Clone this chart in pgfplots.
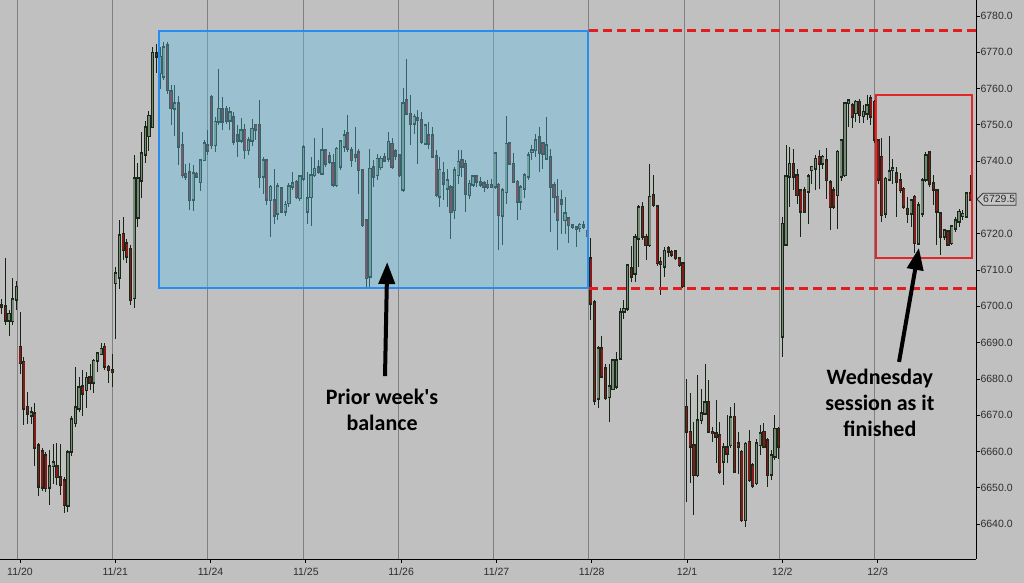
\documentclass[border=0pt]{standalone}
\usepackage{fontspec}
\setmainfont{Liberation Sans}
\newfontfamily\annfont{Carlito}
\usepackage{pgfplots}
\pgfplotsset{compat=1.18}
\usepackage{pgfplotstable}
\usetikzlibrary{arrows.meta}
\definecolor{bgcol}{RGB}{192,192,192}
\definecolor{gridcol}{RGB}{128,128,128}
\definecolor{wickcol}{RGB}{20,35,20}
\definecolor{outcol}{RGB}{25,40,25}
\definecolor{upcol}{RGB}{120,138,120}
\definecolor{dncol}{RGB}{135,25,25}
\definecolor{boxfill}{RGB}{100,192,230}
\definecolor{boxline}{RGB}{40,140,240}
\definecolor{dashcol}{RGB}{225,30,30}
\definecolor{boxred}{RGB}{225,40,40}
\definecolor{labcol}{RGB}{45,45,45}

\pgfplotstableread{
i o h l c
0 6700.5 6702 6698 6700
1 6700 6713.5 6695 6696
2 6696 6699 6692 6698
3 6696 6708 6695 6702
4 6702 6707 6699 6705.5
5 6689 6698.5 6681.6 6684.4
6 6684.8 6686 6667.3 6671.9
7 6672.4 6676.5 6667.8 6670.5
8 6670 6672.4 6667.8 6671
9 6670.6 6673.4 6656.3 6661
10 6661.8 6662.5 6648 6650.3
11 6660 6661 6649 6650
12 6659 6660 6649 6650
13 6650 6660.4 6645.3 6656
14 6656 6662 6651 6657
15 6656 6662.5 6651 6653
16 6653 6662 6648 6651
17 6652.2 6653 6643 6645.3
18 6645.3 6660.5 6643.5 6660
19 6660 6670 6659 6669
20 6668 6683.4 6667 6672.4
21 6672 6680.6 6671 6677.9
22 6678 6682.6 6670 6676
23 6677 6682 6672 6680.5
24 6680.5 6684 6677 6679
25 6679 6685.6 6676 6685
26 6685 6687.5 6682 6687
27 6687 6690 6687 6688.5
28 6689 6690 6682.7 6683.4
29 6683.4 6684 6679 6682.5
30 6682.5 6687 6678 6682
31 6706.4 6711 6691 6709.2
32 6708 6723.8 6705 6719.7
33 6720 6724.7 6712.8 6715.5
34 6717.5 6718.6 6712 6713.7
35 6716 6717 6700.4 6701.8
36 6702.3 6741.7 6699.5 6735.4
37 6724.6 6739.5 6722 6735.4
38 6734.8 6748 6730 6742.3
39 6742 6751 6739.6 6749.5
40 6747 6754 6743 6752.7
41 6749.5 6771.6 6749.5 6770
42 6769.8 6772.5 6764.3 6768.8
43 6764.3 6771.6 6760 6768.8
44 6763.3 6772.9 6762.5 6771.5
45 6772 6772.9 6758.7 6759.6
46 6759.2 6761 6750 6754.6
47 6754.6 6761 6747 6756
48 6756 6758 6739 6744
49 6744.5 6748 6735.4 6736.2
50 6736.6 6739.4 6734.8 6735.7
51 6737 6739.4 6726.5 6729.3
52 6729.3 6739 6726.5 6736.6
53 6736.6 6737 6735.3 6735.7
54 6734.3 6740.8 6732 6740.3
55 6740.3 6745.8 6740 6744.9
56 6744.4 6748.6 6741.7 6743
57 6757.7 6758.2 6743.5 6744.4
58 6744.4 6752.2 6742.6 6750.9
59 6750.9 6765.5 6750 6754.5
60 6754.5 6757.7 6748.6 6751
61 6754.5 6755.4 6750.4 6751.3
62 6751.3 6755 6748.6 6753.6
63 6752.2 6753.6 6744.4 6745.4
64 6747.2 6749.9 6741.2 6745.8
65 6745.8 6751.8 6744.9 6748.6
66 6748.6 6750.4 6740.8 6743
67 6743 6746.7 6741.7 6745.8
68 6745.8 6751.8 6744.4 6749
69 6750 6750.4 6745.8 6748.6
70 6750 6756.9 6732.5 6735.7
71 6735.8 6741.3 6731.2 6740.3
72 6740.3 6740.8 6728 6729.3
73 6729.3 6733.5 6719.2 6733
74 6729.3 6738 6722.9 6725.2
75 6725.6 6733.9 6723.8 6733
76 6732.5 6733 6725.7 6726.1
77 6726.1 6729 6725 6728
78 6728.4 6733.9 6727.5 6733
79 6733 6737.1 6732 6733.9
80 6734.4 6734.8 6729.8 6730.2
81 6729.8 6736.2 6729.3 6735.8
82 6735.3 6744.5 6734.8 6744
83 6726.1 6737.1 6722.9 6729.8
84 6730.2 6741.3 6722.4 6736.2
85 6736.2 6746.3 6735.8 6738
86 6738.5 6740.3 6736.7 6737.1
87 6736.7 6749.1 6736.2 6743.1
88 6743.1 6743.5 6738.5 6739.4
89 6741.3 6742.6 6739.4 6739.9
90 6739.4 6742.2 6733 6733.5
91 6733.5 6744 6733 6743.5
92 6738.5 6745.8 6737.6 6745.4
93 6744 6748.6 6742.6 6747.2
94 6747.7 6752.7 6742.6 6743.5
95 6743 6744 6738.5 6740.3
96 6741.7 6749.5 6739.9 6741.3
97 6742.6 6743.5 6731.2 6737.6
98 6737.6 6738 6722 6722.4
99 6723.8 6724.3 6705.5 6707.8
100 6708.2 6743.5 6705.5 6738
101 6738.5 6740.3 6733 6735.8
102 6736.2 6742.2 6734.8 6740.8
103 6738.5 6741.7 6737.6 6740.8
104 6741.3 6742.2 6739.9 6740.3
105 6740.8 6748.1 6739.9 6745.4
106 6744.9 6746.3 6738 6738.5
107 6742.6 6743.5 6740.3 6741.3
108 6741.7 6742.2 6735.8 6736.2
109 6732.1 6760.1 6731.6 6756
110 6756.9 6768.3 6752.7 6753.2
111 6753.2 6758.2 6744.5 6750.4
112 6750.4 6753.2 6747.7 6752.3
113 6751.8 6754.1 6739.4 6751.4
114 6751.4 6753.6 6744.9 6745.4
115 6744.9 6750.4 6744.5 6750
116 6747.2 6750.9 6743.5 6744.9
117 6747.2 6749.5 6740.8 6741.3
118 6741.3 6743.1 6730.2 6730.7
119 6730.2 6741.3 6727.5 6737.6
120 6736.7 6739.9 6729.3 6733.9
121 6732.5 6738 6727.5 6734.8
122 6733 6733.5 6718.8 6726.1
123 6726.6 6738.5 6724.3 6737.6
124 6736.2 6743.1 6733.9 6739.9
125 6740.3 6743.1 6735.8 6738.5
126 6739.4 6740.3 6726.1 6731.2
127 6730.7 6734.8 6729.8 6733.9
128 6733.5 6736.2 6733 6735.8
129 6735.8 6736.2 6733 6734.4
130 6734.4 6735.8 6733 6733.5
131 6733.9 6734.4 6731.6 6733
132 6733.5 6734.8 6732.5 6733.1
133 6733.5 6735.3 6733 6733
134 6733 6742.6 6732.5 6742.2
135 6733.5 6733.9 6715.6 6725.2
136 6725.2 6732.5 6716.9 6732.1
137 6731.6 6752.7 6728.4 6744.9
138 6744.9 6745.4 6739 6739.4
139 6739.4 6742.2 6733.9 6734.4
140 6734.4 6734.8 6723.8 6728.9
141 6728.9 6733.5 6726.6 6733
142 6732.5 6736.7 6729.8 6736.2
143 6735.8 6742.6 6734.8 6741.7
144 6742.6 6744.5 6740.3 6743.1
145 6743.1 6747.7 6741.3 6745.8
146 6746.7 6749.5 6737.1 6742.2
147 6745 6745.4 6738 6742.2
148 6740.8 6752.3 6740.3 6744.5
149 6741.3 6743.5 6720.6 6733
150 6733.5 6734.4 6725.7 6730.2
151 6730.2 6735.3 6715.6 6723.8
152 6729.3 6732.1 6720.1 6728.4
153 6723.8 6730.2 6720.1 6725.7
154 6724.3 6724.7 6717.4 6722.4
155 6722.4 6722.9 6721.5 6722
156 6722 6722 6716.5 6721.5
157 6721.5 6723 6720.5 6722.5
158 6722.5 6723.5 6721.5 6722
159 6721 6721.5 6719 6719.5
160 6713.3 6718.8 6696.3 6700.9
161 6701.3 6701.8 6672.9 6674.2
162 6674.7 6689 6671.9 6688.5
163 6688.5 6691.7 6680.2 6680.7
164 6683 6684.3 6674.2 6674.7
165 6675 6684.3 6668.3 6678
166 6677.3 6685.3 6677 6685.3
167 6678 6687.6 6677.5 6685.2
168 6685.7 6699.5 6685.3 6698.6
169 6698.6 6701.8 6696.7 6699.5
170 6699.5 6711.9 6699 6711.4
171 6710.5 6716.9 6706.8 6708.2
172 6709.1 6720.1 6706.8 6719.2
173 6718.8 6728 6711 6727.5
174 6727.5 6728.8 6718.3 6719.2
175 6719.2 6720.1 6712.8 6716.9
176 6716.9 6739.4 6716.5 6730.2
177 6730.7 6736.2 6727.5 6727.9
178 6727.5 6727.9 6711.4 6711.9
179 6712.3 6713.7 6703.2 6711.9
180 6711 6716.5 6708.2 6715.5
181 6716 6716.5 6713.7 6715.1
182 6715.1 6715.5 6713.7 6714.2
183 6715.1 6715.5 6712.8 6713.3
184 6713.3 6713.7 6711 6711.4
185 6711.9 6711.9 6705 6705.5
186 6672.4 6680.2 6646.2 6665.5
187 6665.5 6676.1 6651.3 6661.4
188 6661.8 6668.3 6642.6 6653.6
189 6653.6 6681.1 6653.1 6668.7
190 6668.7 6677.4 6667.8 6670.6
191 6670.6 6684.3 6670.1 6673.8
192 6673.8 6679.7 6665.1 6665.5
193 6665.5 6666.9 6662.8 6665.1
194 6665.1 6674.2 6656.8 6664.1
195 6664.6 6668.3 6654.1 6654.5
196 6657.3 6662.3 6650.8 6661.4
197 6661.4 6670.1 6656.8 6659.5
198 6661.8 6672.4 6660.9 6669.6
199 6669.6 6673.3 6654.1 6654.5
200 6662.3 6665.5 6654 6661.4
201 6660 6660.5 6640.7 6641.2
202 6641.2 6662.8 6639.4 6662.3
203 6662.8 6666 6651.8 6652.2
204 6656.3 6656.8 6649.9 6650.8
205 6651.3 6663.7 6650.8 6662.3
206 6661.8 6667.4 6659.1 6665.1
207 6665.5 6667.8 6660.9 6661.4
208 6663.2 6663.7 6650.4 6653.6
209 6653.6 6660.5 6652.2 6659.1
210 6658.6 6670.1 6657.7 6666.4
211 6666.4 6666.9 6658.2 6661.4
212 6691.7 6724.7 6686.2 6722.9
213 6717 6744.5 6716.5 6735.8
214 6735.8 6744 6727.5 6739.4
215 6739.4 6743.5 6732.1 6735.8
216 6736.2 6738 6728.4 6730.7
217 6732.1 6732.5 6719.3 6726.1
218 6732.1 6733 6725.7 6726.1
219 6731.6 6736.7 6722.9 6735.8
220 6737.6 6738.5 6733.9 6738.5
221 6738.1 6741.7 6732.1 6740.8
222 6741.3 6743.1 6732.5 6739.4
223 6739.4 6741.7 6738 6741.3
224 6740.3 6743.6 6729.8 6734.8
225 6734.4 6734.8 6721.1 6727.5
226 6732.1 6733 6727 6727.5
227 6730.7 6743.1 6721.5 6742.7
228 6735.8 6746.3 6734.8 6745.9
229 6736.2 6756.4 6735.8 6756
230 6756 6756.9 6749.5 6756.9
231 6755.5 6756 6749.1 6752.3
232 6753.2 6756.9 6750.9 6756.4
233 6756.4 6757.3 6750.5 6752.7
234 6752.3 6755.5 6750.5 6753.6
235 6753.2 6758.3 6751.4 6755.5
236 6757.3 6758.3 6750 6752.3
237 6756.4 6756.9 6745 6745.9
238 6745.9 6746.3 6733.9 6734.9
239 6741.3 6746.3 6723.4 6725.2
240 6725.6 6735.8 6724.3 6735.3
241 6734.8 6746.8 6734.4 6737.2
242 6737.6 6740.8 6733.9 6738.1
243 6736.7 6738.5 6724.8 6734.4
244 6734.9 6736.7 6731.2 6732.1
245 6732.5 6733 6727 6727.5
246 6727 6730.2 6722.9 6725.7
247 6725.7 6729.8 6722 6729.3
248 6730.2 6730.7 6714.7 6717.4
249 6717.4 6728.9 6717 6728
250 6725.7 6735.3 6724.8 6734.9
251 6734.9 6742.6 6734.4 6741.7
252 6742.6 6742.6 6733 6733.9
253 6733.9 6736.2 6728 6732.1
254 6732.1 6732.5 6717 6726.1
255 6725.7 6726.1 6714.2 6719.3
256 6719.3 6721.5 6718.3 6721.1
257 6720.6 6721.1 6716.5 6717
258 6717.4 6722.5 6717 6722
259 6721.5 6724.8 6720.6 6723.8
260 6723.4 6727 6722 6726.1
261 6725.2 6726.6 6723.8 6725.7
262 6724.8 6731.6 6724.3 6731.2
263 6731.2 6736.2 6729.4 6729.5
}\candles

\pgfplotsset{
  candle/.style={only marks, mark=none, mark size=0pt,
    mark options={draw opacity=0, fill opacity=0}, forget plot},
}

\begin{document}
\begin{tikzpicture}
\path[use as bounding box, fill=bgcol] (0,0) rectangle (1024bp,583bp);
\begin{axis}[
  at={(0,24bp)}, anchor=south west,
  scale only axis, width=976bp, height=559bp,
  xmin=-0.46, xmax=264.6, ymin=6630.4, ymax=6784.4,
  axis x line*=bottom, axis y line*=right,
  axis line style={black, line width=1bp},
  xtick={4.96,30.84,56.72,82.6,108.48,134.36,160.24,186.12,212,237.88},
  xticklabels={11/20,11/21,11/24,11/25,11/26,11/27,11/28,12/1,12/2,12/3},
  extra x ticks={4.16,30.04,55.92,81.8,107.68,133.56,159.44,185.32,211.2,237.08},
  extra x tick labels={},
  extra x tick style={grid=major, major tick length=0pt},
  major grid style={gridcol, line width=0.8bp},
  ytick={6640,6650,6660,6670,6680,6690,6700,6710,6720,6740,6750,6760,6770,6780},
  scaled y ticks=false,
  yticklabel={\pgfmathprintnumber[fixed,fixed zerofill,precision=1,1000 sep={},assume math mode=true]{\tick}},
  tick align=outside, major tick length=4bp,
  tick style={black, line width=0.8bp},
  ticklabel style={font=\fontsize{10.5bp}{12bp}\selectfont, text=labcol},
  yticklabel style={xshift=-3bp},
  xticklabel style={yshift=-1bp},
]
% wicks
\addplot[candle,
  error bars/.cd, y dir=both, y explicit, error mark=none,
  error bar style={line width=1bp, wickcol}]
  table[x=i, y expr={(\thisrow{h}+\thisrow{l})/2}, y error expr={(\thisrow{h}-\thisrow{l})/2}] {\candles};
% body outlines
\addplot[candle,
  error bars/.cd, y dir=both, y explicit, error mark=none,
  error bar style={line width=3.2bp, outcol}]
  table[x=i, y expr={(\thisrow{o}+\thisrow{c})/2}, y error expr={abs(\thisrow{c}-\thisrow{o})/2+0.3}] {\candles};
% up bodies
\addplot[candle,
  restrict expr to domain={\thisrow{c}-\thisrow{o}}{0:1000},
  error bars/.cd, y dir=both, y explicit, error mark=none,
  error bar style={line width=1.6bp, upcol}]
  table[x=i, y expr={(\thisrow{o}+\thisrow{c})/2}, y error expr={max(abs(\thisrow{c}-\thisrow{o})/2-0.15,0.1)}] {\candles};
% down bodies
\addplot[candle,
  restrict expr to domain={\thisrow{c}-\thisrow{o}}{-1000:-0.001},
  error bars/.cd, y dir=both, y explicit, error mark=none,
  error bar style={line width=1.6bp, dncol}]
  table[x=i, y expr={(\thisrow{o}+\thisrow{c})/2}, y error expr={max(abs(\thisrow{c}-\thisrow{o})/2-0.15,0.1)}] {\candles};
% prior week's balance box
\addplot[fill=boxfill, fill opacity=0.4, draw=boxline, line width=2bp]
  coordinates {(42.75,6705.05) (159.2,6705.05) (159.2,6775.9) (42.75,6775.9)} --cycle;
% dashed extensions
\addplot[dashcol, line width=3bp, dash pattern=on 9bp off 5bp]
  coordinates {(159.6,6775.9) (264.6,6775.9)};
\addplot[dashcol, line width=3bp, dash pattern=on 9bp off 5bp]
  coordinates {(159.6,6705.05) (264.6,6705.05)};
% wednesday box
\addplot[draw=boxred, line width=1.6bp]
  coordinates {(237.45,6713.3) (263.5,6713.3) (263.5,6758.2) (237.45,6758.2)} --cycle;
% arrows and notes
\draw[line width=4bp, -{Triangle[length=22bp,width=16bp]}] (axis cs:104.1,6680.8) -- (axis cs:104.7,6712.2);
\draw[line width=4bp, -{Triangle[length=22bp,width=16bp]}] (axis cs:243.7,6684.7) -- (axis cs:249.1,6716.1);
\node[font=\annfont\bfseries\fontsize{22bp}{26bp}\selectfont, align=center] at (axis cs:103.3,6671.4) {Prior week's\\balance};
\node[font=\annfont\bfseries\fontsize{22bp}{26bp}\selectfont, align=center] at (axis cs:238.5,6673.4) {Wednesday\\session as it\\finished};
\coordinate (tag) at (axis cs:264.6,6729.5);
\end{axis}
\draw[black!80, fill=bgcol!90!white, line width=0.8bp] ([xshift=1bp]tag) -- ++(6bp,6bp) -- ++(33bp,0) -- ++(0,-12bp) -- ++(-33bp,0) -- cycle;
\node[anchor=west, inner sep=0pt, font=\fontsize{10.5bp}{12bp}\selectfont, text=labcol] at ([xshift=7bp]tag) {6729.5};
\end{tikzpicture}
\end{document}
